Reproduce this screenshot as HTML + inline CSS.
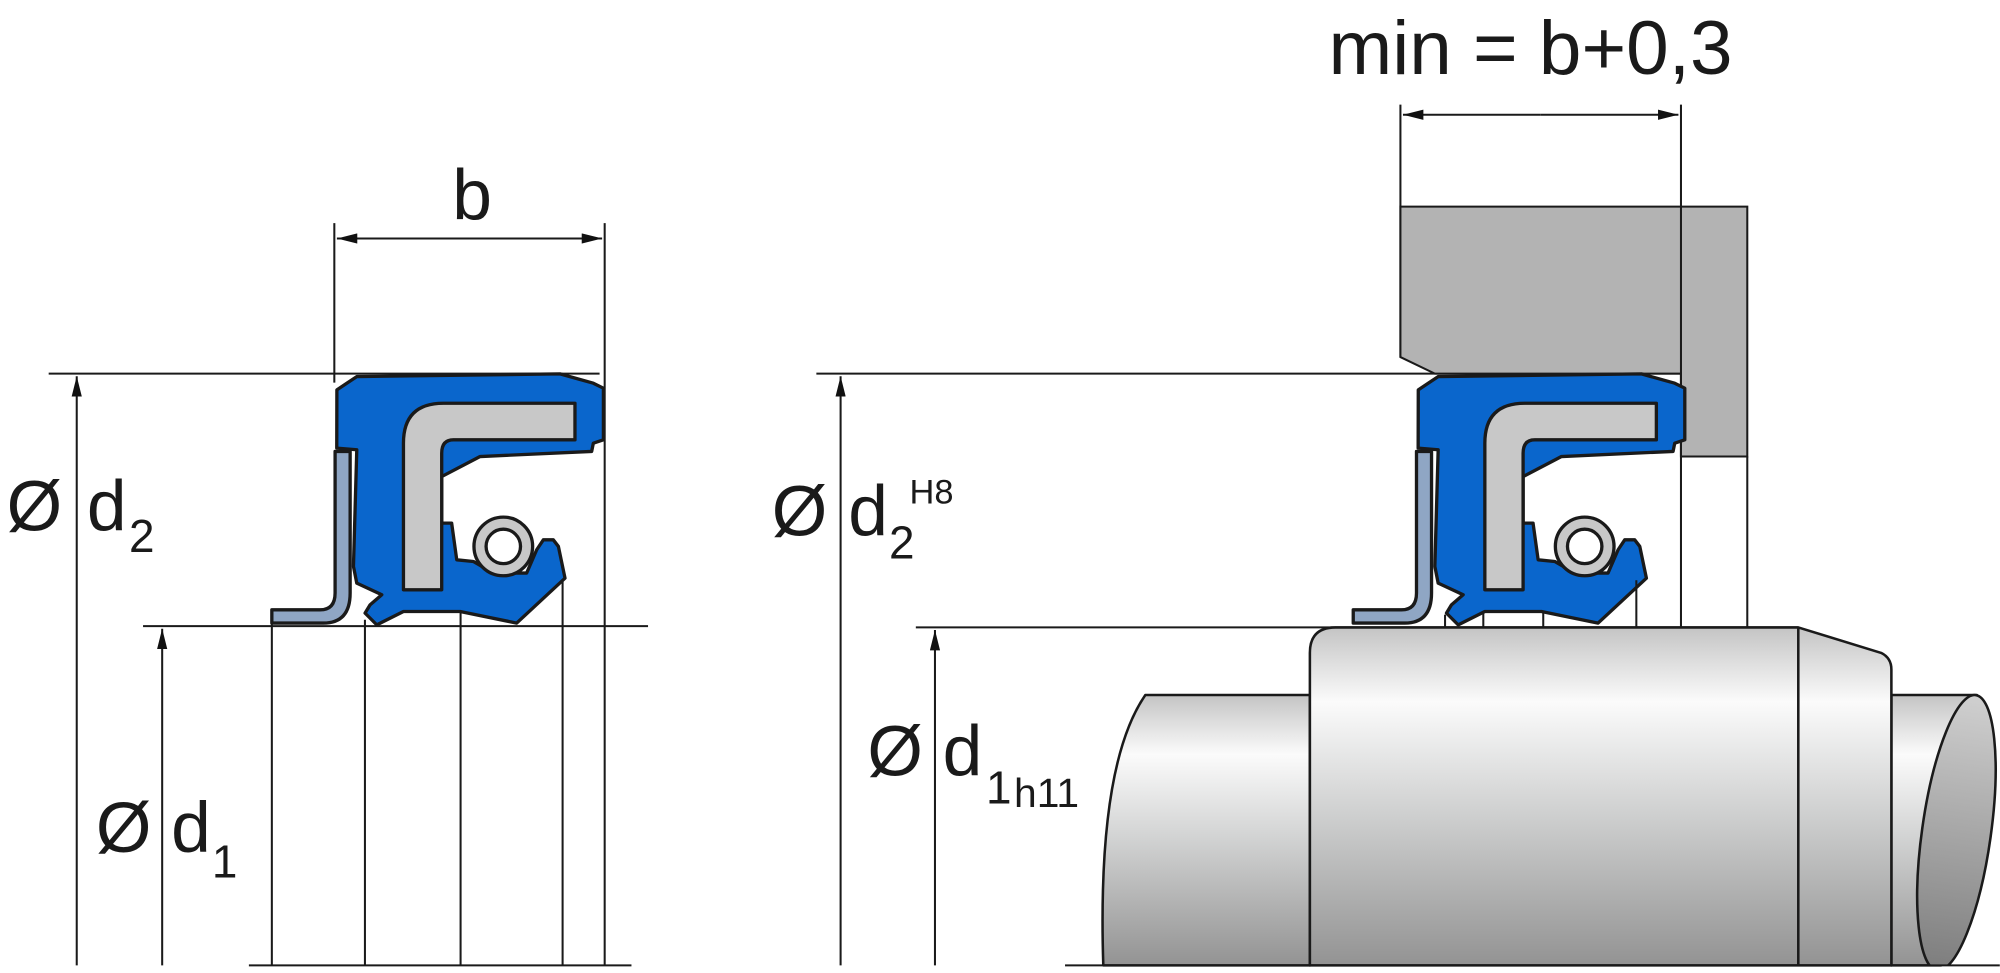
<!DOCTYPE html>
<html><head><meta charset="utf-8"><style>
html,body{margin:0;padding:0;background:#fff;}
svg{display:block;}
text{font-family:"Liberation Sans",Arial,sans-serif;fill:#1a1a1a;}
</style></head><body>
<svg width="2000" height="973" viewBox="0 0 1568 763" xmlns="http://www.w3.org/2000/svg">
<defs>
<linearGradient id="sh" x1="0" y1="0" x2="0" y2="1">
<stop offset="0" stop-color="#c4c4c4"/><stop offset="0.22" stop-color="#fbfbfb"/><stop offset="0.55" stop-color="#cfd0d0"/><stop offset="1" stop-color="#939393"/>
</linearGradient>
<linearGradient id="el" x1="0" y1="0" x2="0" y2="1">
<stop offset="0" stop-color="#d0d0d0"/><stop offset="1" stop-color="#7d7d7d"/>
</linearGradient>
<clipPath id="cb"><rect x="0" y="0" width="1568" height="757"/></clipPath>
<marker id="ar" markerWidth="16" markerHeight="8" refX="16" refY="4" orient="auto" markerUnits="userSpaceOnUse">
<path d="M0,0 L16,4 L0,8 Z" fill="#111"/></marker>
<g id="seal" stroke="#1a1a1a" stroke-width="2.6" stroke-linejoin="round">
<path fill="#0a66cc" d="M264,305.7 L279.6,295.3 L439,293.2 L465.1,300.5 L473,304.4 L473,344.9 L465.1,347.5 L463.8,354 L376.3,358 L346.2,373.7 L346.2,410.2 L354,410.2 L358,439 L371,440.3 L386.7,449.4 L412.8,449.4 L420.7,431.1 L425.9,423.3 L433.7,423.3 L437.7,428.5 L442.9,453.4 L405,488.6 L360.6,479.5 L316.2,479.5 L295.3,490 L286.1,480.8 L290,474.3 L299.2,466.4 L279.6,457.3 L277,444.2 L279.6,352.7 L263.9,351.4 Z"/>
<path fill="#c8c8c8" d="M316.2,462.5 L316.2,347.5 Q316.2,316.2 347.5,316.2 L450.7,316.2 L450.7,344.9 L355.4,344.9 Q346.2,344.9 346.2,355.4 L346.2,462.5 Z"/>
<circle cx="394.5" cy="428.5" r="23" fill="#c8c8c8"/>
<circle cx="394.5" cy="428.5" r="13.5" fill="#fff"/>
<path fill="#8fa6c4" d="M262.6,354 L274.4,354 L274.4,465 Q274.4,488.6 253.4,488.6 L213,488.6 L213,478.2 L250.8,478.2 Q262.6,478.2 262.6,465 Z"/>
</g>
</defs>
<g stroke="#1a1a1a" stroke-width="1.6" fill="none">
<line x1="38" y1="293" x2="470" y2="293"/>
<line x1="112" y1="491" x2="508" y2="491"/>
<line x1="262" y1="175" x2="262" y2="300"/>
<line x1="474" y1="175" x2="474" y2="757"/>
<line x1="60" y1="757" x2="60" y2="295" marker-end="url(#ar)"/>
<line x1="127" y1="757" x2="127" y2="493" marker-end="url(#ar)"/>
<line x1="368" y1="187" x2="264" y2="187" marker-end="url(#ar)"/>
<line x1="368" y1="187" x2="472" y2="187" marker-end="url(#ar)"/>
<line x1="213" y1="489" x2="213" y2="757"/>
<line x1="286" y1="486" x2="286" y2="757"/>
<line x1="361" y1="480" x2="361" y2="757"/>
<line x1="441" y1="455" x2="441" y2="757"/>
<line x1="195" y1="757" x2="495" y2="757"/>
<line x1="640" y1="293" x2="1318" y2="293"/>
<line x1="718" y1="492" x2="1410" y2="492"/>
<line x1="659" y1="757" x2="659" y2="295" marker-end="url(#ar)"/>
<line x1="733" y1="757" x2="733" y2="494" marker-end="url(#ar)"/>
<line x1="1098" y1="82" x2="1098" y2="280"/>
<line x1="1318" y1="82" x2="1318" y2="492"/>
<line x1="1208" y1="90" x2="1100" y2="90" marker-end="url(#ar)"/>
<line x1="1208" y1="90" x2="1316" y2="90" marker-end="url(#ar)"/>
</g>
<text x="370" y="172" font-size="56" text-anchor="middle">b</text>
<text x="5" y="416" font-size="56">Ø</text><text x="68" y="416" font-size="56">d</text><text x="101" y="433" font-size="36">2</text>
<text x="75" y="668" font-size="56">Ø</text><text x="134" y="668" font-size="56">d</text><text x="166" y="688" font-size="36">1</text>
<text x="1200" y="58" font-size="60" text-anchor="middle">min = b+0,3</text>
<text x="605" y="420" font-size="56">Ø</text><text x="665" y="420" font-size="56">d</text><text x="697" y="438" font-size="36">2</text><text x="713" y="395" font-size="27">H8</text>
<text x="680" y="608" font-size="56">Ø</text><text x="739" y="608" font-size="56">d</text><text x="773" y="630" font-size="36">1</text><text x="795" y="633" font-size="32">h11</text>
<use href="#seal"/>
<path d="M1098,162 L1370,162 L1370,358 L1318,358 L1318,293 L1125,293 L1098,280 Z" fill="#b3b3b3" stroke="#1a1a1a" stroke-width="1.6"/>
<line x1="1318" y1="162" x2="1318" y2="358" stroke="#1a1a1a" stroke-width="1.6"/>
<line x1="1370" y1="358" x2="1370" y2="492" stroke="#1a1a1a" stroke-width="1.6"/>
<use href="#seal" transform="translate(848,0)"/>
<g stroke="#1a1a1a" stroke-width="1.6">
<line x1="1133" y1="482" x2="1133" y2="492"/><line x1="1163" y1="480" x2="1163" y2="492"/><line x1="1210" y1="480" x2="1210" y2="492"/><line x1="1283" y1="455" x2="1283" y2="492"/>
</g>
<g stroke="#1a1a1a" stroke-width="2" stroke-linejoin="round">
<path d="M898,545 L1027,545 L1027,757 L865,757 Q860,600 898,545 Z" fill="url(#sh)"/>
<path d="M1483,545 L1550,545 L1522,757 L1483,757 Z" fill="url(#sh)"/>
<path d="M1027,757 L1027,512 Q1027,492 1047,492 L1410,492 L1475,512 Q1483,516 1483,525 L1483,757 Z" fill="url(#sh)"/>
<line x1="1410" y1="492" x2="1410" y2="757"/>
<g clip-path="url(#cb)"><ellipse cx="1534" cy="653" rx="27" ry="109" transform="rotate(8 1534 653)" fill="url(#el)"/></g>
</g>
<line x1="835" y1="757" x2="1568" y2="757" stroke="#1a1a1a" stroke-width="1.6"/>
</svg>
</body></html>
